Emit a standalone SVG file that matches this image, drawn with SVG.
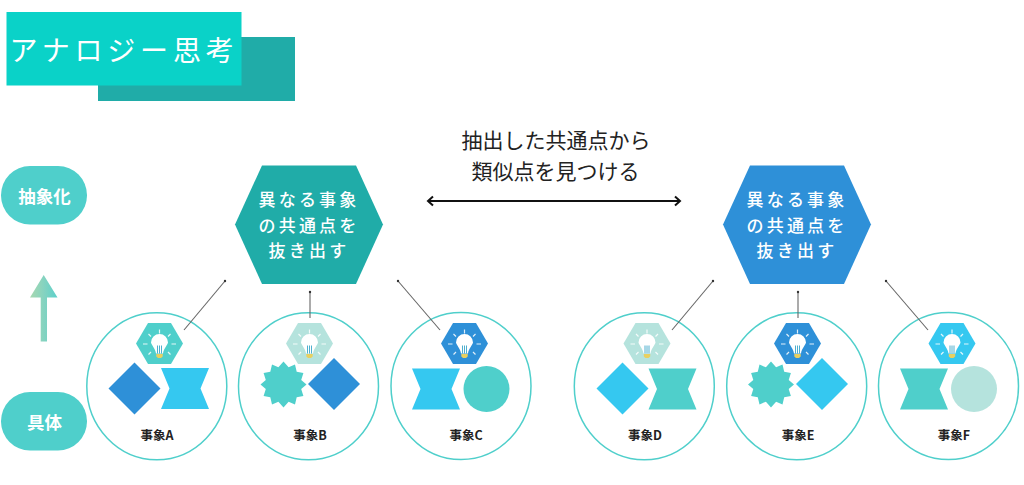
<svg xmlns="http://www.w3.org/2000/svg" width="1024" height="485" viewBox="0 0 1024 485">
<style>
text{font-family:"Noto Sans CJK JP","Noto Sans",sans-serif;text-anchor:middle}
.pill{font-size:17.500px;font-weight:700;fill:#fff}
.hex{font-size:17px;font-weight:500;fill:#fff;letter-spacing:3.200px}
.lab{font-size:12.500px;font-weight:700;fill:#222}
.cap{font-size:21px;fill:#222}
.ring{fill:#fff;stroke:#4fcfcb;stroke-width:1.500}
.lnk{stroke:#666;stroke-width:1.100;fill:none;marker-end:url(#dot)}
</style>
<defs>
<marker id="dot" markerWidth="4" markerHeight="4" refX="2" refY="2" markerUnits="userSpaceOnUse"><circle cx="2" cy="2" r="1.200" fill="#333"/></marker>
<marker id="chev" markerWidth="10" markerHeight="12" refX="7" refY="6" orient="auto-start-reverse" markerUnits="userSpaceOnUse"><path d="M2 1.500L7 6L2 10.500" fill="none" stroke="#111" stroke-width="2"/></marker>
<linearGradient id="ag" x1="0" x2="1" y1="0" y2="0"><stop offset="0" stop-color="#a8d8b0"/><stop offset=".5" stop-color="#85d3c0"/><stop offset="1" stop-color="#5cd0cb"/></linearGradient>
<g id="bulb">
<path d="M0-11.500V-15.500M-8.500-8.500L-11-11M8.500-8.500L11-11M-12 -1H-16.500M12 -1H16.500M-8.500 7L-11 9.500M8.500 7L11 9.500" stroke="#fff" stroke-opacity=".85" stroke-width="1.200" fill="none"/>
<path d="M-3.500 8.500C-4 4-8.500-1-8.500-2.500A8.500 8.500 0 1 1 8.500-2.500C8.500-1 4 4 3.500 8.500Z" fill="#fff"/>
<path d="M-2 0.500V8.500M0 0.500V8.500M2 0.500V8.500" stroke="#3aa6c8" stroke-width=".9"/>
<path d="M-3.200 9H3.200V11.500L1.500 13H-1.500L-3.200 11.500Z" fill="#e8d060"/>
</g>
<polygon id="hx" points="-23.500,0 -11.500,-20.500 11.500,-20.500 23.500,0 11.500,20.500 -11.500,20.500"/>
<polygon id="dia" points="-26,0 0,-26 26,0 0,26"/>
<polygon id="bow" points="-24,-20.500 24,-20.500 15.500,0 24,20.500 -24,20.500 -15.500,0"/>
<polygon id="star" points="23.000,0.000 17.700,4.400 19.900,11.500 13.200,12.700 11.500,19.900 5.100,17.200 0.000,23.000 -5.100,17.200 -11.500,19.900 -13.200,12.700 -19.900,11.500 -17.700,4.400 -23.000,0.000 -17.700,-4.400 -19.900,-11.500 -13.200,-12.700 -11.500,-19.900 -5.100,-17.200 0.000,-23.000 5.100,-17.200 11.500,-19.900 13.200,-12.700 19.900,-11.500 17.700,-4.400"/>
</defs>

<g id="title">
<rect x="98" y="37" width="197" height="64" fill="#20aca8"/>
<rect x="6.500" y="12" width="235" height="73.500" fill="#0ad2c8"/>
<text x="124" y="60.500" font-size="28" fill="#fff" letter-spacing="4.800">アナロジー思考</text>
</g>

<g id="level-abstract"><rect x="1" y="166" width="86" height="58.500" rx="29" fill="#4fcfcb"/><text class="pill" x="44.500" y="202.500">抽象化</text></g>
<g id="level-concrete"><rect x="1" y="392" width="86" height="58.500" rx="29" fill="#4fcfcb"/><text class="pill" x="44.500" y="429">具体</text></g>
<g id="up-arrow"><polygon points="43.700,275 57.500,297.500 47,297.500 47,341.500 40.700,341.500 40.700,297.500 30,297.500" fill="url(#ag)"/></g>

<g id="caption"><text class="cap" x="556" y="147.500">抽出した共通点から</text><text class="cap" x="555.500" y="178.500">類似点を見つける</text></g>

<g id="hex-left"><polygon points="235,224.500 262,165.500 356,165.500 383,224.500 356,284 262,284" fill="#20aca8"/>
<text class="hex" x="309" y="206">異なる事象</text><text class="hex" x="309" y="231.500">の共通点を</text><text class="hex" x="309" y="257">抜き出す</text></g>
<g id="hex-right"><polygon points="723,224.500 750,165.500 844,165.500 871,224.500 844,284 750,284" fill="#2e90d8"/>
<text class="hex" x="797" y="206">異なる事象</text><text class="hex" x="797" y="231.500">の共通点を</text><text class="hex" x="797" y="257">抜き出す</text></g>

<g id="event-a"><ellipse class="ring" cx="156.800" cy="386.300" rx="70" ry="73.500"/>
<use href="#hx" x="159.500" y="343.500" fill="#4fcfcb"/><use href="#bulb" x="159.500" y="345"/>
<use href="#dia" x="134.500" y="388.500" fill="#2e90d8"/><use href="#bow" x="185" y="388.500" fill="#35c8f0"/>
<text class="lab" x="157" y="439.500">事象A</text></g>
<g id="event-b"><ellipse class="ring" cx="308.500" cy="386.300" rx="70" ry="73.500"/>
<use href="#hx" x="309.500" y="343.500" fill="#b5e3dd"/><use href="#bulb" x="309.500" y="345"/>
<use href="#star" x="283.500" y="384.500" fill="#4fcfcb"/><use href="#dia" x="334" y="384" fill="#2e90d8"/>
<text class="lab" x="310" y="439.500">事象B</text></g>
<g id="event-c"><ellipse class="ring" cx="461" cy="386" rx="70" ry="73.500"/>
<use href="#hx" x="464.500" y="343.500" fill="#2e90d8"/><use href="#bulb" x="464.500" y="345"/>
<use href="#bow" x="436" y="389" fill="#35c8f0"/><circle cx="486.500" cy="389" r="23" fill="#4fcfcb"/>
<text class="lab" x="466" y="439.500">事象C</text></g>
<g id="event-d"><ellipse class="ring" cx="644.300" cy="386.300" rx="70" ry="73.500"/>
<use href="#hx" x="647" y="343.500" fill="#b5e3dd"/><use href="#bulb" x="647" y="345"/>
<use href="#dia" x="622.500" y="388.500" fill="#35c8f0"/><use href="#bow" x="672.500" y="389" fill="#4fcfcb"/>
<text class="lab" x="645" y="439.500">事象D</text></g>
<g id="event-e"><ellipse class="ring" cx="796.700" cy="386.300" rx="70" ry="73.500"/>
<use href="#hx" x="797.500" y="343.500" fill="#2e90d8"/><use href="#bulb" x="797.500" y="345"/>
<use href="#star" x="771" y="384.500" fill="#4fcfcb"/><use href="#dia" x="822" y="384" fill="#35c8f0"/>
<text class="lab" x="798" y="439.500">事象E</text></g>
<g id="event-f"><ellipse class="ring" cx="948.500" cy="386" rx="70" ry="73.500"/>
<use href="#hx" x="952" y="343.500" fill="#35c8f0"/><use href="#bulb" x="952" y="345"/>
<use href="#bow" x="924" y="389" fill="#4fcfcb"/><circle cx="974" cy="389" r="23" fill="#b5e3dd"/>
<text class="lab" x="954" y="439.500">事象F</text></g>

<g id="connectors">
<path class="lnk" d="M184 330L225 281"/>
<path class="lnk" d="M310 318V292"/>
<path class="lnk" d="M440 330L398 281"/>
<path class="lnk" d="M672 330L713 281"/>
<path class="lnk" d="M798 318V292"/>
<path class="lnk" d="M928 330L886 281"/>
<path d="M428 201H680" stroke="#111" stroke-width="2" fill="none" marker-start="url(#chev)" marker-end="url(#chev)"/>
</g>
</svg>
